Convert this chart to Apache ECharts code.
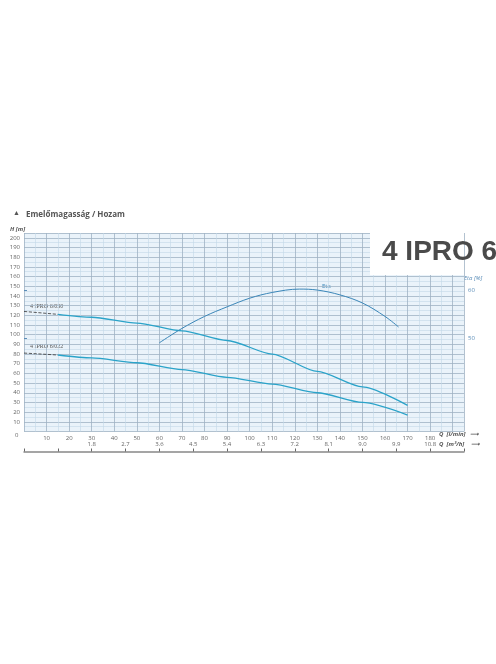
<!DOCTYPE html><html><head><meta charset="utf-8">
<script src="https://cdn.jsdelivr.net/npm/echarts@6/dist/echarts.min.js"></script>
<style>html,body{margin:0;padding:0;background:#fff}#c{width:496px;height:664px}</style></head>
<body><div id="c"></div><script>
const q030=[0,15,30,50,70,90,110,130,150,170];
const h030=[124,121,118,112,104,94,80,62,46,27];
const q022=[0,15,30,50,70,90,110,130,150,170];
const h022=[81,79,76,71,64,56,49,40,30,17];
const qEta=[60,70,80,90,100,110,122,130,140,150,160,166];
const eta=[49,52,54.5,56.5,58.3,59.5,60.2,60,59,57.3,54.5,52.3];
function pts(x,y,from,to){const r=[];for(let i=0;i<x.length;i++){if(x[i]>=from&&x[i]<=to)r.push([x[i],y[i]]);}return r;}
const c=echarts.init(document.getElementById('c'));
const lab={color:'#666',fontSize:6,fontFamily:'Open Sans'};
c.setOption({animation:false,
grid:{left:24,right:32,top:233,height:198.5,containLabel:false,show:true,backgroundColor:'#eaf3fa',borderWidth:0},
xAxis:[{type:'value',min:0,max:195,interval:10,position:'bottom',
 axisLine:{show:false},axisTick:{show:false},
 axisLabel:Object.assign({},lab,{margin:4,formatter:v=>(v>0&&v<=180)?String(v):''}),
 splitLine:{show:true,lineStyle:{color:'#9fb3c4',width:0.8}},
 minorTick:{show:false,splitNumber:2},minorSplitLine:{show:true,lineStyle:{color:'#c3d8e8',width:0.6}}},
 {type:'value',min:0,max:195,interval:15,position:'bottom',offset:20,
 axisLine:{show:true,lineStyle:{color:'#888',width:1.5}},
 axisTick:{show:true,inside:true,length:3,lineStyle:{color:'#666'}},
 axisLabel:Object.assign({},lab,{inside:true,margin:4,formatter:v=>(v>=30&&v<=180)?(v*0.06).toFixed(1):''}),
 splitLine:{show:false}}],
yAxis:[{type:'value',min:0,max:205,interval:10,
 axisLine:{show:false},axisTick:{show:false},
 axisLabel:Object.assign({},lab,{margin:4,formatter:v=>v>0?String(v):''}),
 splitLine:{show:true,lineStyle:{color:'#9fb3c4',width:0.8}},
 minorTick:{show:false,splitNumber:2},minorSplitLine:{show:true,lineStyle:{color:'#c3d8e8',width:0.6}}},
 {type:'value',min:30.5,max:71.9,position:'right',
 axisLine:{show:false},axisTick:{show:true,length:3,customValues:[50,60],lineStyle:{color:'#5b8db8'}},
 axisLabel:{color:'#5b8db8',fontSize:6,fontFamily:'Open Sans',margin:4,customValues:[50,60]},
 splitLine:{show:false}}],
series:[
 {type:'line',data:pts(q030,h030,0,15),symbol:'none',lineStyle:{color:'#333',width:0.8,type:'dashed'},z:1},
 {type:'line',data:pts(q030,h030,15,170),symbol:'none',smooth:0.25,smoothMonotone:'x',lineStyle:{color:'#2aa3c9',width:1.3}},
 {type:'line',data:pts(q022,h022,0,15),symbol:'none',lineStyle:{color:'#333',width:0.8,type:'dashed'},z:1},
 {type:'line',data:pts(q022,h022,15,170),symbol:'none',smooth:0.25,smoothMonotone:'x',lineStyle:{color:'#2aa3c9',width:1.3}},
 {type:'line',yAxisIndex:1,data:pts(qEta,eta,0,200),symbol:'none',smooth:0.35,lineStyle:{color:'#3a86b8',width:1}}
],
graphic:[
 {type:'rect',left:370,top:233,z:10,shape:{width:94,height:42},style:{fill:'#fff'}},
 {type:'text',left:382,top:238,z:11,style:{text:'4 IPRO 6',font:'bold 28px "Liberation Sans Narrow",sans-serif',fill:'#4a4a4a'}},
 {type:'text',left:26,top:211,style:{text:'Emelőmagasság / Hozam',font:'bold 8px "Open Sans"',fill:'#555'}},
 {type:'text',left:13,top:210,style:{text:'▲',font:'7px sans-serif',fill:'#555'}},
 {type:'text',left:10,top:226,style:{text:'H [m]',font:'italic bold 6px "Open Sans"',fill:'#555'}},
 {type:'text',left:15,top:432,style:{text:'0',font:'6px "Open Sans"',fill:'#666'}},
 {type:'text',left:439,top:431,style:{text:'Q  [l/min]   ⟶',font:'italic bold 6px "Open Sans"',fill:'#555'}},
 {type:'text',left:439,top:441,style:{text:'Q  [m³/h]    ⟶',font:'italic bold 6px "Open Sans"',fill:'#555'}},
 {type:'text',left:464,top:275,style:{text:'Eta [%]',font:'italic 6px "Open Sans"',fill:'#5b8db8'}},
 {type:'text',left:30,top:303,style:{text:'4 IPRO 6/030',font:'6px "Liberation Sans Narrow"',fill:'#555'}},
 {type:'text',left:30,top:343,style:{text:'4 IPRO 6/022',font:'6px "Liberation Sans Narrow"',fill:'#555'}},
 {type:'text',left:322,top:283,style:{text:'Eta',font:'6px "Open Sans"',fill:'#3a86b8'}}
]});
</script></body></html>
